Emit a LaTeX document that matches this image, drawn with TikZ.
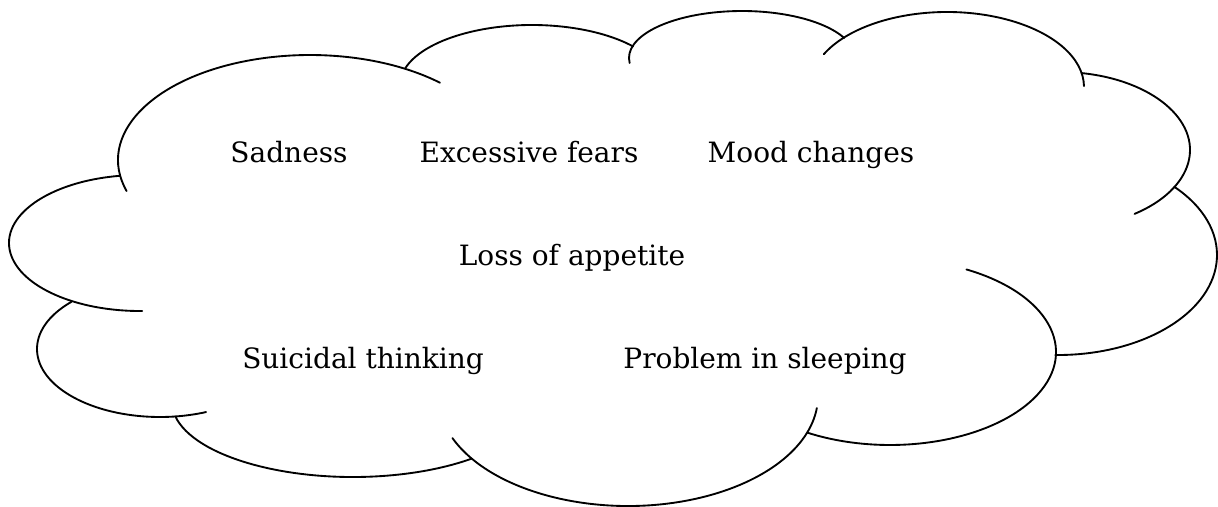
\documentclass[tikz,border=0pt]{standalone}
\usepackage{fontspec}
\setmainfont{DejaVu Serif}
\usetikzlibrary{positioning}

% one bump of the cloud: centre x, centre y, x radius, y radius, start, end
\newcommand{\puffarc}[6]{%
  \draw[puff] ({#1+#3*cos(#5)},{#2+#4*sin(#5)})
    arc[start angle=#5, end angle=#6, x radius=#3, y radius=#4];}

\begin{document}
\begin{tikzpicture}[
  x=0.75pt, y=-0.75pt,
  puff/.style={line width=1.4pt, line cap=round},
  txt/.style={anchor=base, font=\fontsize{21}{25}\selectfont, inner sep=0pt}
]
\useasboundingbox (0,0) rectangle (1218,507);

% cloud outline, clockwise from the far left
\puffarc{140}{243}{131}{68}{261.3}{89}
\puffarc{310}{160}{192}{105}{162.8}{312.6}
\puffarc{532}{85}{132}{60}{196.4}{319.9}
\puffarc{742}{58}{113}{47}{173.9}{334.8}
\puffarc{947}{87}{137}{75}{205.9}{359.3}
\puffarc{1060}{150}{130}{78}{279.5}{415}
\puffarc{1058}{255}{159}{100}{317}{451}
\puffarc{890}{352}{166}{93}{297.4}{479.9}
\puffarc{628}{396}{190}{110}{157.5}{6.3}
\puffarc{353}{402}{181}{75}{169}{49}
\puffarc{160}{349}{123}{68}{224}{68}

\node[txt] (sadness) at (289,162) {Sadness};
\node[txt] (fears) at (529,162) {Excessive fears};
\node[txt] (mood) at (811,162) {Mood changes};
\node[txt] (appetite) at (572,265) {Loss of appetite};
\node[txt] (suicidal) at (363,368) {Suicidal thinking};
\node[txt] (sleeping) at (765,368) {Problem in sleeping};

\end{tikzpicture}
\end{document}
